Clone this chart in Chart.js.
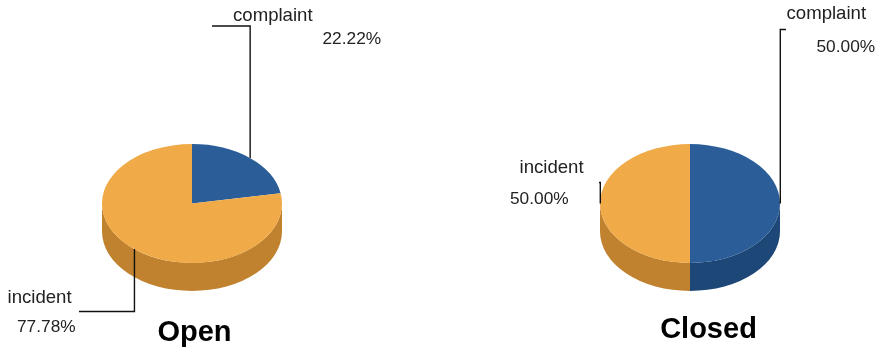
<!DOCTYPE html>
<html>
<head>
<meta charset="utf-8">
<script src="https://cdn.jsdelivr.net/npm/chart.js@4"></script>
<style>
  html, body { margin: 0; padding: 0; background: #fff; overflow: hidden; }
  #wrap { position: relative; width: 876px; height: 347px; }
  canvas { position: absolute; top: 0; }
</style>
</head>
<body>
<div id="wrap">
  <canvas id="open" width="438" height="347" style="left:0"></canvas>
  <canvas id="closed" width="438" height="347" style="left:438px"></canvas>
</div>
<script>
const categories = ['complaint', 'incident'];
const openValues = [22.22, 77.78];
const closedValues = [50, 50];
const topColors = ['#2B5E98', '#F0AA47'];
const sideColors = ['#1D4776', '#C0822E'];

const FONT = '"Liberation Sans", Arial, sans-serif';
const SQUASH = 59.5 / 90;
const DEPTH = 28;

// squashes the flat pie into an ellipse and draws the rim under it
const pie3d = {
  id: 'pie3d',
  beforeDatasetsDraw(chart) {
    const ctx = chart.ctx;
    const arcs = chart.getDatasetMeta(0).data;
    arcs.forEach((arc, i) => {
      const rx = arc.outerRadius;
      const ry = rx * SQUASH;
      // only the front half of the rim can be seen
      const from = Math.max(arc.startAngle, 0);
      const to = Math.min(arc.endAngle, Math.PI);
      if (to <= from) return;
      ctx.beginPath();
      ctx.ellipse(arc.x, arc.y, rx, ry, 0, from, to);
      ctx.ellipse(arc.x, arc.y + DEPTH, rx, ry, 0, to, from, true);
      ctx.closePath();
      ctx.fillStyle = sideColors[i];
      ctx.fill();
    });
    const cy = arcs[0].y;
    ctx.save();
    ctx.translate(0, cy);
    ctx.scale(1, SQUASH);
    ctx.translate(0, -cy);
  },
  afterDatasetsDraw(chart, args, opts) {
    const ctx = chart.ctx;
    ctx.restore();
    const arcs = chart.getDatasetMeta(0).data;
    const values = chart.data.datasets[0].data;
    const total = values.reduce((a, b) => a + b, 0);

    arcs.forEach((arc, i) => {
      const mid = (arc.startAngle + arc.endAngle) / 2;
      const ax = arc.x + arc.outerRadius * Math.cos(mid) + 0.3;
      const ay = arc.y + arc.outerRadius * SQUASH * Math.sin(mid);
      const lab = opts.labels[i];

      ctx.beginPath();
      ctx.moveTo(ax, ay);
      ctx.lineTo(ax, lab.elbowY);
      ctx.lineTo(lab.endX, lab.elbowY);
      ctx.strokeStyle = '#111';
      ctx.lineWidth = 1.4;
      ctx.stroke();

      ctx.fillStyle = '#222';
      ctx.textAlign = 'left';
      ctx.textBaseline = 'alphabetic';
      ctx.font = '18.6px ' + FONT;
      ctx.fillText(categories[i], lab.nameX, lab.nameY);
      ctx.font = '17.3px ' + FONT;
      ctx.fillText((values[i] / total * 100).toFixed(2) + '%', lab.pctX, lab.pctY);
    });

    ctx.fillStyle = '#000';
    ctx.textAlign = 'center';
    ctx.font = 'bold 29px ' + FONT;
    ctx.fillText(opts.title, opts.titleX, opts.titleY);
  }
};

function plotPie(id, values, padding, pieOpts) {
  return new Chart(document.getElementById(id), {
    type: 'pie',
    data: {
      labels: categories,
      datasets: [{ data: values, backgroundColor: topColors, borderWidth: 0 }]
    },
    options: {
      responsive: false,
      animation: false,
      layout: { padding: padding },
      plugins: {
        legend: { display: false },
        tooltip: { enabled: false },
        pie3d: pieOpts
      }
    },
    plugins: [pie3d]
  });
}

plotPie('open', openValues, { left: 102, right: 156, top: 113.5, bottom: 53.5 }, {
  title: 'Open', titleX: 194.5, titleY: 340.5,
  labels: [
    { elbowY: 26, endX: 212, nameX: 233, nameY: 20.5, pctX: 322.5, pctY: 44 },
    { elbowY: 311.5, endX: 79, nameX: 7.5, nameY: 303, pctX: 17, pctY: 331.5 }
  ]
});

plotPie('closed', closedValues, { left: 162, right: 96, top: 113.5, bottom: 53.5 }, {
  title: 'Closed', titleX: 270.5, titleY: 338,
  labels: [
    { elbowY: 29.5, endX: 348, nameX: 348.5, nameY: 18.5, pctX: 378.5, pctY: 52 },
    { elbowY: 182.5, endX: 161, nameX: 81.5, nameY: 172.5, pctX: 72, pctY: 204 }
  ]
});
</script>
</body>
</html>
